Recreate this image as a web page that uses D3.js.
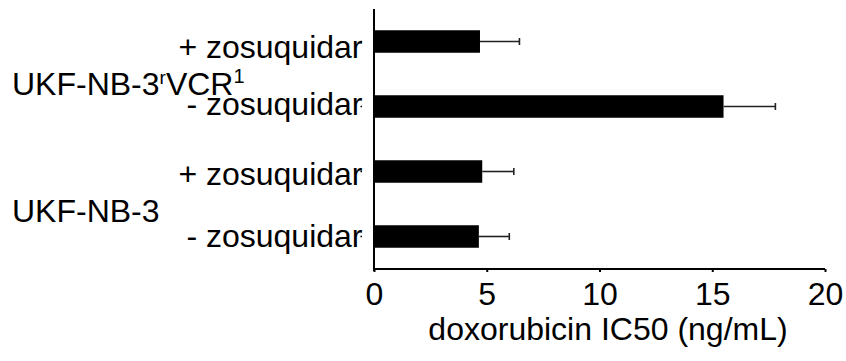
<!DOCTYPE html>
<html><head><meta charset="utf-8">
<script src="https://cdn.jsdelivr.net/npm/d3@7"></script>
<style>body{margin:0;background:#fff}svg{display:block}text{font-family:"Liberation Sans",Arial,sans-serif;fill:#000}</style>
</head><body><svg id="c" width="846" height="361"></svg>
<script>
const rows = ["r1plus","r1minus","p_plus","p_minus"];
const rowLabels = ["+ zosuquidar","- zosuquidar","+ zosuquidar","- zosuquidar"];
const values = [4.7, 15.5, 4.8, 4.65];
const errors = [1.75, 2.3, 1.4, 1.35];
const xTicks = [0,5,10,15,20];
const xTitle = "doxorubicin IC50 (ng/mL)";

const svg = d3.select("#c");
const x = d3.scaleLinear().domain([0,20]).range([374,825]);
const y = d3.scaleBand().domain(rows).range([9,269]).padding(0);
const barH = 22.5;
const FS = 32;

// bars
svg.selectAll("rect.bar").data(values).join("rect")
  .attr("x", x(0)).attr("y",(d,i)=>y(rows[i])+y.bandwidth()/2-barH/2)
  .attr("width",d=>x(d)-x(0)).attr("height",barH).attr("fill","#000");

// error bars
const eg = svg.append("g").attr("stroke","#222").attr("stroke-width",1.6);
values.forEach((v,i)=>{
  const cy = y(rows[i])+y.bandwidth()/2;
  eg.append("line").attr("x1",x(v)).attr("x2",x(v+errors[i])).attr("y1",cy).attr("y2",cy);
  eg.append("line").attr("x1",x(v+errors[i])).attr("x2",x(v+errors[i])).attr("y1",cy-3.5).attr("y2",cy+3.5);
});

// x axis
const xa = svg.append("g").attr("transform","translate(0,269)")
  .call(d3.axisBottom(x).tickValues(xTicks).tickSize(3).tickPadding(10).tickFormat(d3.format("d")));
xa.select(".domain").attr("stroke","#000").attr("stroke-width",2).attr("d","M373,0H825");
xa.selectAll(".tick line").attr("stroke","#000").attr("stroke-width",2);
xa.selectAll(".tick text").attr("font-size",FS).attr("font-family","Liberation Sans, Arial, sans-serif").attr("fill","#000").attr("dy",null).attr("y",36);

// y axis line
svg.append("line").attr("x1",374).attr("x2",374).attr("y1",9).attr("y2",271).attr("stroke","#000").attr("stroke-width",2);
// tiny tick marks
rows.forEach(r=>{
  const cy=y(r)+y.bandwidth()/2;
  svg.append("line").attr("x1",360.5).attr("x2",362).attr("y1",cy).attr("y2",cy).attr("stroke","#000").attr("stroke-width",1.6);
});

// row labels
const labelOffsets = [16.5, 8.5, 13, 10];
svg.selectAll("text.rl").data(rowLabels).join("text").attr("class","rl")
  .attr("x",362.5).attr("text-anchor","end").attr("font-size",FS)
  .attr("y",(d,i)=>y(rows[i])+y.bandwidth()/2+labelOffsets[i]).text(d=>d);

// group labels
const g1 = svg.append("text").attr("x",12).attr("y",95).attr("font-size",FS);
g1.append("tspan").text("UKF-NB-3");
g1.append("tspan").attr("font-size",19).attr("dy",-11).text("r");
g1.append("tspan").attr("dy",11).text("VCR");
g1.append("tspan").attr("font-size",20).attr("dy",-12).text("1");
svg.append("text").attr("x",12).attr("y",221.5).attr("font-size",FS).text("UKF-NB-3");

// x title
svg.append("text").attr("x",608).attr("y",340).attr("text-anchor","middle").attr("font-size",FS).text(xTitle);
</script></body></html>
